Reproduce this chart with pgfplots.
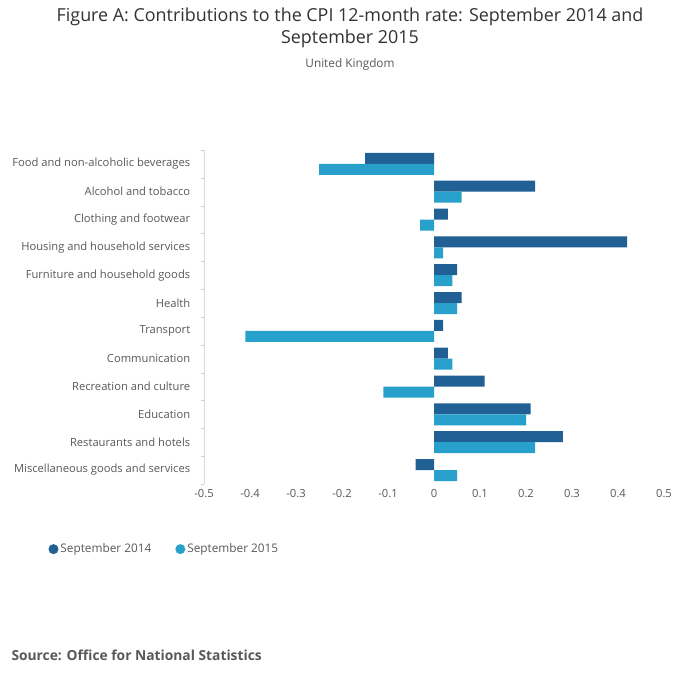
\documentclass[border=0pt]{standalone}
\usepackage{pgfplots}
\pgfplotsset{compat=1.18}
\usepackage{fontspec}
\setmainfont{Open Sans}
\definecolor{dk}{HTML}{206095}
\definecolor{lt}{HTML}{27A0CC}
\definecolor{tx}{HTML}{595959}
\begin{document}
\begin{tikzpicture}[x=1pt,y=1pt]
\fill[white] (0,0) rectangle (700,682);
\node[font=\fontsize{17.9}{21.5}\selectfont,color=black!80,align=center] at (350,654) {Figure A: Contributions to the CPI 12-month rate: September 2014 and\\September 2015};
\node[font=\fontsize{11.8}{14}\selectfont,color=tx] at (350,618) {United Kingdom};
\node[font=\bfseries\fontsize{13.8}{16}\selectfont,color=tx,anchor=west] at (8,27) {Source: Office for National Statistics};
\begin{axis}[at={(204pt,198pt)},anchor=south west,scale only axis,width=460pt,height=334pt,
 xbar, bar width=11pt,
 xmin=-0.5,xmax=0.5,ymin=-0.5,ymax=11.5,
 xtick={-0.5,-0.4,...,0.5},
 xticklabels={-0.5,-0.4,-0.3,-0.2,-0.1,0,0.1,0.2,0.3,0.4,0.5},
 ytick={0,...,11},
 yticklabels={Miscellaneous goods and services,Restaurants and hotels,Education,Recreation and culture,Communication,Transport,Health,Furniture and household goods,Housing and household services,Clothing and footwear,Alcohol and tobacco,Food and non-alcoholic beverages},
 minor ytick={-0.5,0.5,...,11.5},
 axis x line*=bottom, x axis line style={draw=none},
 axis y line*=left, y axis line style={draw=gray!30},
 major y tick style={draw=none}, minor y tick style={draw=gray!40},
 major x tick style={draw=none},
 tick label style={font=\fontsize{11.2}{13}\selectfont,color=tx},
 yticklabel style={xshift=-6pt},
 xticklabel style={yshift=-2pt},
 legend style={at={(rel axis cs:-0.345,-0.195)},anchor=west,draw=none,legend columns=2,font=\fontsize{11.8}{14}\selectfont,text=tx,/tikz/every even column/.append style={column sep=22pt}},
 legend image code/.code={\fill[#1] (0.3em,0) circle (5pt);},
]
\addplot[fill=dk,draw=none,bar shift=5.5pt] coordinates {(-0.04,0) (0.28,1) (0.21,2) (0.11,3) (0.03,4) (0.02,5) (0.06,6) (0.05,7) (0.42,8) (0.03,9) (0.22,10) (-0.15,11)};
\addplot[fill=lt,draw=none,bar shift=-5.5pt] coordinates {(0.05,0) (0.22,1) (0.20,2) (-0.11,3) (0.04,4) (-0.41,5) (0.05,6) (0.04,7) (0.02,8) (-0.03,9) (0.06,10) (-0.25,11)};
\legend{September 2014,September 2015}
\node[font=\fontsize{12}{14}\selectfont,color=tx,anchor=east] at (rel axis cs:1,-0.11) {Percentage points};
\end{axis}
\end{tikzpicture}
\end{document}
